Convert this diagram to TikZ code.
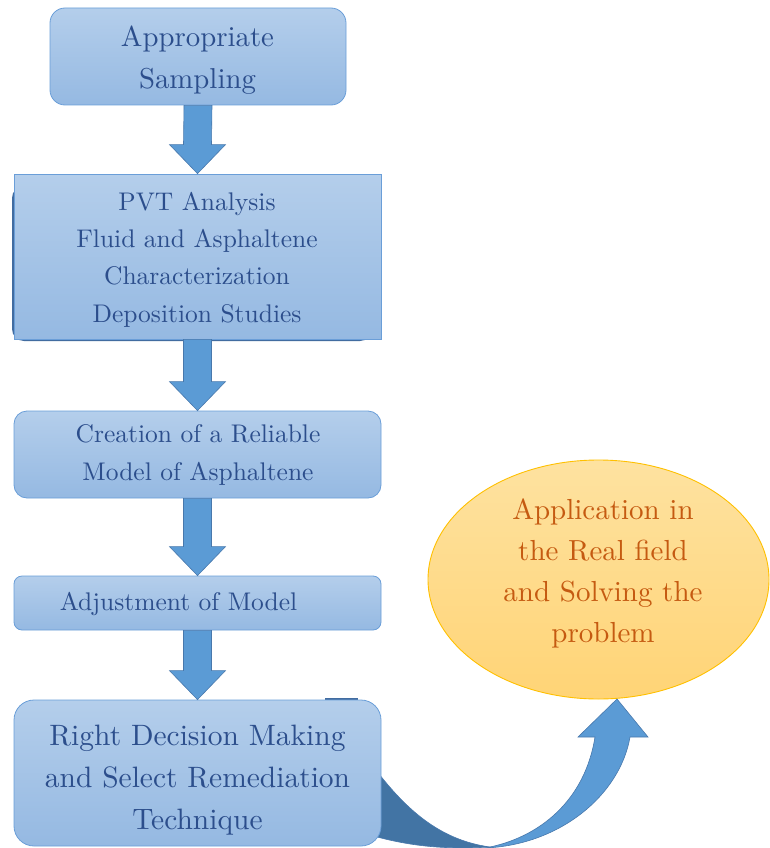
\documentclass[tikz,border=0pt]{standalone}
\usepackage{fontspec}
\setmainfont{lmroman10-regular.otf}
\usetikzlibrary{shapes.geometric,calc}
\definecolor{boxtop}{RGB}{180,206,235}
\definecolor{boxbot}{RGB}{149,185,226}
\definecolor{boxline}{RGB}{106,158,216}
\definecolor{boxtext}{RGB}{44,78,140}
\definecolor{arrfill}{RGB}{91,155,213}
\definecolor{arrline}{RGB}{72,120,172}
\definecolor{arrdark}{RGB}{66,116,164}
\definecolor{shadowblue}{RGB}{66,108,160}
\definecolor{elltop}{RGB}{254,226,160}
\definecolor{ellbot}{RGB}{255,212,118}
\definecolor{ellline}{RGB}{255,192,0}
\definecolor{elltext}{RGB}{197,90,17}
\newcommand\blockarrow[2]{%
  \filldraw[fill=arrfill,draw=arrline,line width=0.6pt]
    ($(#1.south)+(-14,0)$) -- ($(#2.north)+(-14,-29)$) -- ($(#2.north)+(-28,-29)$)
    -- (#2.north) -- ($(#2.north)+(28,-29)$) -- ($(#2.north)+(14,-29)$)
    -- ($(#1.south)+(14,0)$) -- cycle;}
\tikzset{
  flowbox/.style={draw=boxline,line width=0.8pt,top color=boxtop,bottom color=boxbot,
    inner sep=0pt,minimum width=367pt},
  btext/.style={text=boxtext,align=center,inner sep=0pt},
  big/.style={font=\fontsize{29.5}{42}\selectfont},
  mid/.style={font=\fontsize{25.5}{37.3}\selectfont},
}
\begin{document}
\begin{tikzpicture}[x=1pt,y=-1pt]
\useasboundingbox (0,0) rectangle (769,848);
% box 1
\node[flowbox,rounded corners=15pt,minimum width=296pt,minimum height=97pt] (b1) at (198,56.5) {};
\node[btext,font=\fontsize{28.8}{42}\selectfont] (t1) at (197.5,60.5) {Appropriate\\Sampling};
% box 2 with shadow shape
\fill[shadowblue,rounded corners=12pt] (12,186) rectangle (372,341);
\node[flowbox,minimum height=165pt] (b2) at (197.5,256.5) {};
\node[btext,mid] (t2) at (197,259.5) {PVT Analysis\\Fluid and Asphaltene\\Characterization\\Deposition Studies};
% box 3
\node[flowbox,rounded corners=13pt,minimum height=87pt] (b3) at (197.5,454.5) {};
\node[btext,mid] (t3) at (198,455) {Creation of a Reliable\\Model of Asphaltene};
% box 4
\node[flowbox,rounded corners=8pt,minimum height=54pt] (b4) at (197.5,603) {};
\node[btext,mid] (t4) at (178.5,603.5) {Adjustment of Model};
% ellipse
\node[ellipse,draw=ellline,line width=0.9pt,top color=elltop,bottom color=ellbot,
  minimum width=341pt,minimum height=239pt,inner sep=0pt] (app) at (598.5,579.5) {};
\node[text=elltext,align=center,inner sep=0pt,font=\fontsize{29}{41}\selectfont] (t6) at (603,573.5)
  {Application in\\the Real field\\and Solving the\\problem};
% curved arrow
\filldraw[fill=arrdark,draw=arrline,line width=0.6pt]
  (370,762) .. controls (405,810) and (440,840) .. (490,847)
  .. controls (440,850) and (405,845) .. (370,835) -- cycle;
\filldraw[fill=arrfill,draw=arrline,line width=0.6pt]
  (485,848) .. controls (560,845) and (620,795) .. (630,737)
  -- (648,737) -- (617,699) -- (578,737) -- (595,737)
  .. controls (585,800) and (540,838) .. (485,848) -- cycle;
% box 5
\fill[shadowblue] (325,697.5) rectangle (358,701);
\node[flowbox,rounded corners=20pt,minimum height=146pt] (b5) at (197.5,773) {};
\node[btext,big] (t5) at (197.5,780.5) {Right Decision Making\\and Select Remediation\\Technique};
% straight arrows
\blockarrow{b1}{b2}
\blockarrow{b2}{b3}
\blockarrow{b3}{b4}
\blockarrow{b4}{b5}
\end{tikzpicture}
\end{document}
